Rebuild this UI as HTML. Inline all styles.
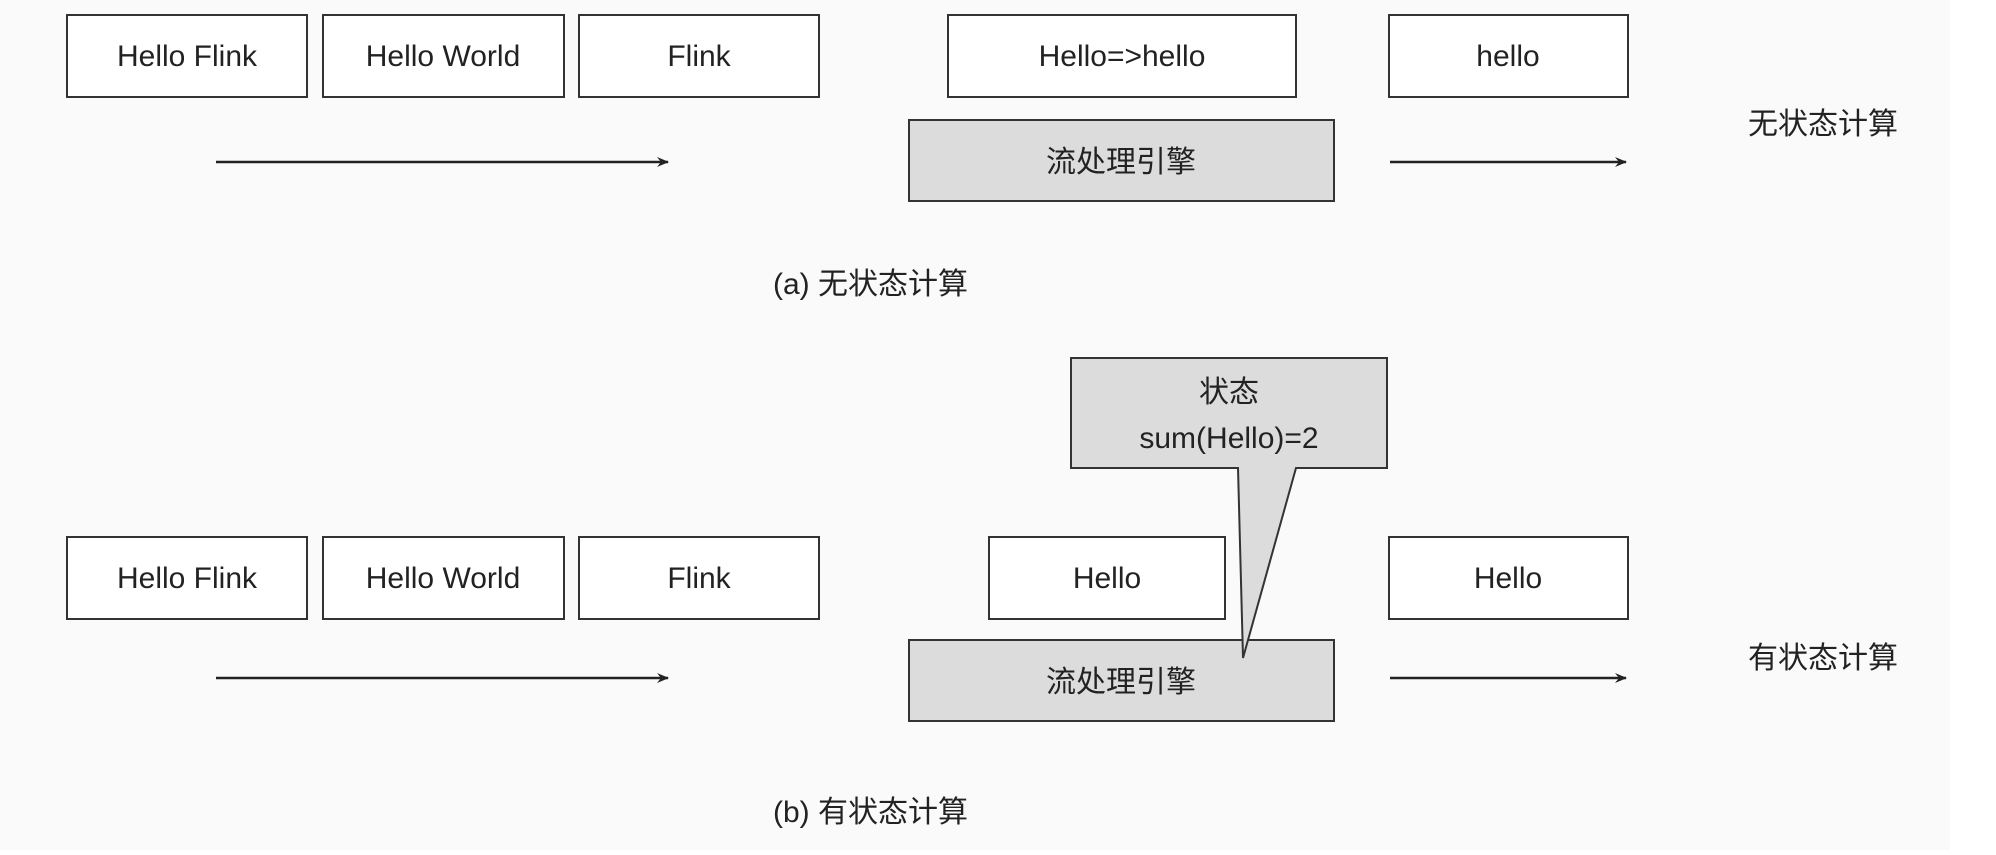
<!DOCTYPE html>
<html><head><meta charset="utf-8"><style>
body{margin:0;background:#fff}
svg text{font-family:"Liberation Sans","Noto Sans CJK SC",sans-serif;fill:#222}
</style></head><body>
<svg width="1996" height="850" viewBox="0 0 1996 850" xmlns="http://www.w3.org/2000/svg">
<defs><marker id="a" markerWidth="12" markerHeight="10" refX="11" refY="5" orient="auto" markerUnits="userSpaceOnUse"><path d="M0,0 L12,5 L0,10 L4,5 Z" fill="#222"/></marker></defs>
<rect x="0" y="0" width="1950" height="850" fill="#fafafa"/>
<g stroke="#333" stroke-width="2" fill="#fff">
<rect x="67" y="15" width="240" height="82"/>
<rect x="323" y="15" width="241" height="82"/>
<rect x="579" y="15" width="240" height="82"/>
<rect x="948" y="15" width="348" height="82"/>
<rect x="1389" y="15" width="239" height="82"/>
<rect x="909" y="120" width="425" height="81" fill="#dcdcdc"/>
<rect x="67" y="537" width="240" height="82"/>
<rect x="323" y="537" width="241" height="82"/>
<rect x="579" y="537" width="240" height="82"/>
<rect x="989" y="537" width="236" height="82"/>
<rect x="1389" y="537" width="239" height="82"/>
<rect x="909" y="640" width="425" height="81" fill="#dcdcdc"/>
<path d="M1071,358 H1387 V468 H1296 L1243,658 L1238,468 H1071 Z" fill="#dcdcdc"/>
</g>
<g stroke="#222" stroke-width="2.5">
<line x1="216" y1="162" x2="668" y2="162" marker-end="url(#a)"/>
<line x1="1390" y1="162" x2="1626" y2="162" marker-end="url(#a)"/>
<line x1="216" y1="678" x2="668" y2="678" marker-end="url(#a)"/>
<line x1="1390" y1="678" x2="1626" y2="678" marker-end="url(#a)"/>
</g>
<g font-size="30" text-anchor="middle">
<text x="187" y="66">Hello Flink</text>
<text x="443" y="66">Hello World</text>
<text x="699" y="66">Flink</text>
<text x="1122" y="66">Hello=&gt;hello</text>
<text x="1508" y="66">hello</text>
<text x="1121" y="172">流处理引擎</text>
<text x="187" y="588">Hello Flink</text>
<text x="443" y="588">Hello World</text>
<text x="699" y="588">Flink</text>
<text x="1107" y="588">Hello</text>
<text x="1508" y="588">Hello</text>
<text x="1121" y="692">流处理引擎</text>
<text x="1229" y="402">状态</text>
<text x="1229" y="448">sum(Hello)=2</text>
</g>
<g font-size="30">
<text x="1748" y="134">无状态计算</text>
<text x="1748" y="668">有状态计算</text>
<text x="773" y="294">(a) 无状态计算</text>
<text x="773" y="822">(b) 有状态计算</text>
</g>
</svg>
</body></html>
